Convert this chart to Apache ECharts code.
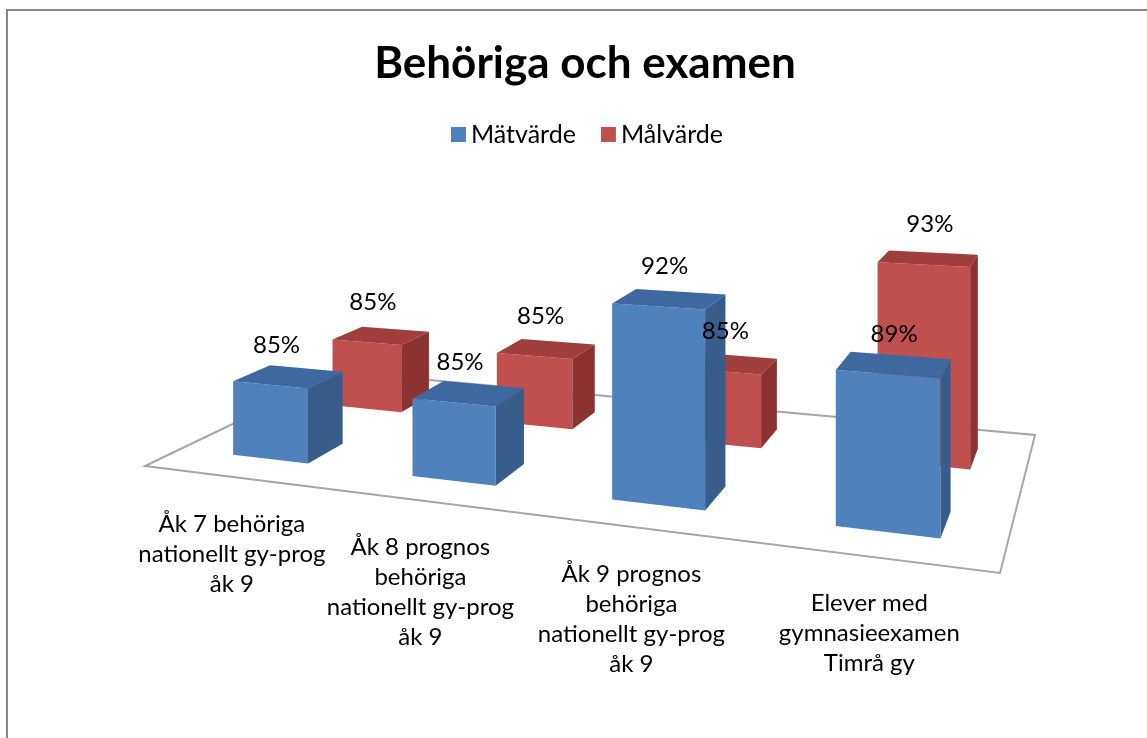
<!DOCTYPE html>
<html>
<head>
<meta charset="utf-8">
<script src="https://cdn.jsdelivr.net/npm/echarts@6/dist/echarts.min.js"></script>
<style>
  html, body { margin: 0; padding: 0; background: #fff; }
  #chart { width: 1147px; height: 738px; }
</style>
</head>
<body>
<div id="chart"></div>
<script>
// data
const categories = [
  'Åk 7 behöriga\nnationellt gy-prog\nåk 9',
  'Åk 8 prognos\nbehöriga\nnationellt gy-prog\nåk 9',
  'Åk 9 prognos\nbehöriga\nnationellt gy-prog\nåk 9',
  'Elever med\ngymnasieexamen\nTimrå gy'
]
const matvarde = [85, 85, 92, 89]
const malvarde = [85, 85, 85, 93]
const valueMin = 80
const valueMax = 100

const FONT = 'Lato'
const labelSize = 24

// floor of the 3d box: front-left, front-right, back-right, back-left
const floorQuad = [[145, 466], [1000, 573], [1035, 435], [341, 372]]

// maps (u along categories, v in depth, z height) onto the picture
const makeProjection = (q) => {
  const [x0, y0] = q[0], [x1, y1] = q[1], [x2, y2] = q[2], [x3, y3] = q[3]
  const dx1 = x1 - x2, dx2 = x3 - x2, dx3 = x0 - x1 + x2 - x3
  const dy1 = y1 - y2, dy2 = y3 - y2, dy3 = y0 - y1 + y2 - y3
  const den = dx1 * dy2 - dx2 * dy1
  const g = (dx3 * dy2 - dx2 * dy3) / den
  const h = (dx1 * dy3 - dx3 * dy1) / den
  const a = x1 - x0 + g * x1, b = x3 - x0 + h * x3
  const d = y1 - y0 + g * y1, e = y3 - y0 + h * y3
  return (u, v, z) => {
    const w = g * u + h * v + 1
    return [(a * u + b * v + x0) / w, (d * u + e * v + y0) / w - (z || 0) / w]
  }
}
const proj = makeProjection(floorQuad)

const barRatio = 0.43

// box corners of one bar, from the hidden cartesian axes
const boxOf = (params, api, v0, v1, shift) => {
  const cs = params.coordSys
  const idx = api.value(0)
  const val = api.value(1)
  const top = api.coord([idx, val])
  const base = api.coord([idx, valueMin])
  const band = api.size([1, 0])[0]
  const uc = (top[0] - cs.x) / cs.width + shift
  const hw = (band * barRatio) / 2 / cs.width
  return { u0: uc - hw, u1: uc + hw, v0, v1, z: base[1] - top[1], val }
}

const barItem = (v0, v1, shift, colors) => (params, api) => {
  const { u0, u1, z } = boxOf(params, api, v0, v1, shift)
  const front = [proj(u0, v0, 0), proj(u1, v0, 0), proj(u1, v0, z), proj(u0, v0, z)]
  const side = [proj(u1, v0, 0), proj(u1, v1, 0), proj(u1, v1, z), proj(u1, v0, z)]
  const lid = [proj(u0, v0, z), proj(u1, v0, z), proj(u1, v1, z), proj(u0, v1, z)]
  return {
    type: 'group',
    children: [
      { type: 'polygon', shape: { points: front }, style: { fill: colors[0] } },
      { type: 'polygon', shape: { points: side }, style: { fill: colors[2] } },
      { type: 'polygon', shape: { points: lid }, style: { fill: colors[1] } }
    ]
  }
}

const valueLabelItem = (v0, v1, shift) => (params, api) => {
  const { u0, u1, z, val } = boxOf(params, api, v0, v1, shift)
  const a = proj(u0, v0, z), b = proj(u1, v0, z)
  return {
    type: 'text',
    style: {
      text: val + '%', x: (a[0] + b[0]) / 2 + 6, y: (a[1] + b[1]) / 2 - 40,
      align: 'center', verticalAlign: 'middle', fill: '#000', font: labelSize + 'px ' + FONT
    }
  }
}

const floorItem = () => ({
  type: 'polygon',
  shape: { points: [proj(0, 0), proj(1, 0), proj(1, 1), proj(0, 1)] },
  style: { fill: '#fff', stroke: '#a6a6a6', lineWidth: 2 }
})

const categoryItem = (params, api) => {
  const cs = params.coordSys
  const idx = api.value(0)
  const p = proj((api.coord([idx, valueMin])[0] - cs.x) / cs.width, 0)
  return {
    type: 'text',
    style: {
      text: categories[idx], x: p[0], y: p[1] + 32, align: 'center', verticalAlign: 'top',
      lineHeight: 30, fill: '#000', font: labelSize + 'px ' + FONT
    }
  }
}

const blueRow = [0.155, 0.332, 0.006]
const redRow = [0.653, 0.83, 0.01]

const chart = echarts.init(document.getElementById('chart'))
chart.setOption({
  backgroundColor: '#fff',
  animation: false,
  title: {
    text: 'Behöriga och examen',
    left: 580,
    textAlign: 'center',
    top: 37,
    textStyle: { fontFamily: FONT, fontWeight: 'bold', fontSize: 44, color: '#000' }
  },
  legend: {
    data: ['Mätvärde', 'Målvärde'],
    left: 451,
    top: 122,
    padding: 0,
    icon: 'rect',
    itemWidth: 15,
    itemHeight: 15,
    itemGap: 25,
    textStyle: { fontFamily: FONT, fontSize: 25, color: '#000', lineHeight: 25 }
  },
  graphic: [
    {
      type: 'rect',
      shape: { x: 7, y: 10, width: 1200, height: 800 },
      style: { fill: 'none', stroke: '#878787', lineWidth: 2 },
      silent: true
    }
  ],
  grid: { left: 0, top: 100, width: 1000, height: 300 },
  xAxis: { type: 'category', data: categories, show: false },
  yAxis: { type: 'value', min: valueMin, max: valueMax, show: false },
  series: [
    {
      type: 'custom', name: 'floor', z: 1, silent: true, clip: false,
      data: [[0, valueMin]], renderItem: floorItem
    },
    {
      type: 'custom', name: 'labels', z: 2, silent: true, clip: false,
      data: categories.map((c, i) => [i, valueMin]), renderItem: categoryItem
    },
    {
      type: 'custom', name: 'Målvärde', z: 3, silent: true, clip: false,
      itemStyle: { color: '#c0504d' },
      data: malvarde.map((v, i) => [i, v]),
      renderItem: barItem(...redRow, ['#c0504d', '#a03e3b', '#8c3230'])
    },
    {
      type: 'custom', name: 'Mätvärde', z: 4, silent: true, clip: false,
      itemStyle: { color: '#4f81bd' },
      data: matvarde.map((v, i) => [i, v]),
      renderItem: barItem(...blueRow, ['#4f81bd', '#3d68a0', '#385d8a'])
    },
    {
      type: 'custom', name: 'Målvärde %', z: 5, silent: true, clip: false,
      data: malvarde.map((v, i) => [i, v]),
      renderItem: valueLabelItem(...redRow)
    },
    {
      type: 'custom', name: 'Mätvärde %', z: 5, silent: true, clip: false,
      data: matvarde.map((v, i) => [i, v]),
      renderItem: valueLabelItem(...blueRow)
    }
  ]
})
</script>
</body>
</html>
